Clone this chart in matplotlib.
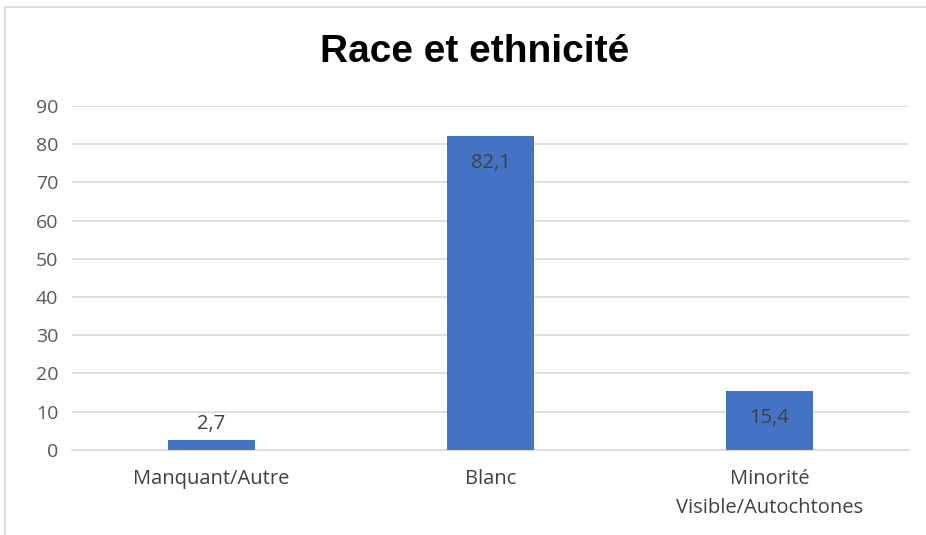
import matplotlib.pyplot as plt
from matplotlib.patches import Rectangle

categories = ["Manquant/Autre", "Blanc", "Minorité\nVisible/Autochtones"]
values = [2.7, 82.1, 15.4]
value_labels = ["2,7", "82,1", "15,4"]
yticks = [0, 10, 20, 30, 40, 50, 60, 70, 80, 90]

plt.rcParams['font.family'] = ['Open Sans', 'DejaVu Sans']

fig = plt.figure(figsize=(9.26, 5.35), dpi=100)
ax = fig.add_axes([0.0778, 0.159, 0.9038, 0.643])

x = list(range(len(categories)))
bars = ax.bar(x, values, width=0.315, color='#4472C4', zorder=3)

for bar, v, lab in zip(bars, values, value_labels):
    cx = bar.get_x() + bar.get_width() / 2
    if v > 10:
        ax.annotate(lab, (cx, v), xytext=(0, -12), textcoords='offset points',
                    ha='center', va='top', fontsize=14.5, color='#404040', zorder=4)
    else:
        ax.annotate(lab, (cx, v), xytext=(0, 4), textcoords='offset points',
                    ha='center', va='bottom', fontsize=14.5, color='#404040', zorder=4)

ax.set_xlim(-0.5, 2.5)
ax.set_ylim(0, 90)
ax.set_yticks(yticks)
ax.set_xticks(x)
ax.set_xticklabels(categories, fontsize=14.5, color='#404040', linespacing=1.55)
ax.tick_params(axis='y', labelsize=14, labelcolor='#595959', length=0, pad=10)
ax.tick_params(axis='x', length=0, pad=14)
ax.grid(axis='y', color='#D9D9D9', linewidth=1.2, zorder=0)
for s in ['top', 'right', 'left']:
    ax.spines[s].set_visible(False)
ax.spines['bottom'].set_color('#D9D9D9')
ax.spines['bottom'].set_linewidth(1.2)

fig.text(0.513, 0.903, "Race et ethnicité", ha='center', va='center',
         fontsize=28, fontweight='bold', color='black',
         family=['Liberation Sans', 'DejaVu Sans'])

fig.patches.append(Rectangle((5 / 926, -0.01), 1.0, 1 - 7 / 535 + 0.01,
                             transform=fig.transFigure, fill=False,
                             edgecolor='#D9D9D9', linewidth=1.2))

fig.savefig('out.png', dpi=100)
